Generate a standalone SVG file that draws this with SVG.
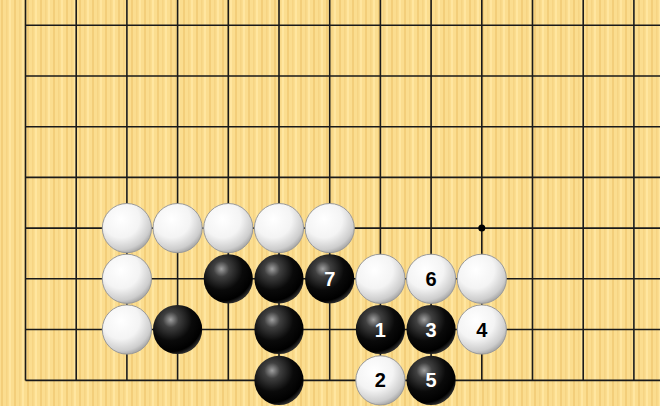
<svg xmlns="http://www.w3.org/2000/svg" width="660" height="406" viewBox="0 0 660 406">
<defs>
<pattern id="wood" patternUnits="userSpaceOnUse" width="13" height="10">
<rect width="13" height="10" fill="#FBDD8F"/>
<rect x="1" width="2" height="10" fill="#F3CE7A"/>
<rect x="6" width="1.5" height="10" fill="#F6D483"/>
<rect x="9" width="2" height="10" fill="#FFE6A0"/>
</pattern>
<radialGradient id="gw" cx="0.38" cy="0.32" r="0.75">
<stop offset="0" stop-color="#FFFFFF"/>
<stop offset="0.5" stop-color="#F4F4F4"/>
<stop offset="0.82" stop-color="#CDCDCD"/>
<stop offset="1" stop-color="#959595"/>
</radialGradient>
<radialGradient id="gb" cx="0.36" cy="0.3" r="0.72">
<stop offset="0" stop-color="#A0A0A0"/>
<stop offset="0.22" stop-color="#404040"/>
<stop offset="0.6" stop-color="#0A0A0A"/>
<stop offset="0.9" stop-color="#000000"/>
<stop offset="1" stop-color="#2A2A2A"/>
</radialGradient>
<style>
.ln{stroke:#1a1a1a;stroke-width:1.6;fill:none}
.w{fill:url(#gw);stroke:#9a9a9a;stroke-width:1}
.b{fill:url(#gb)}
.t{font-family:"Liberation Sans",Arial,sans-serif;font-weight:bold;font-size:20px;text-anchor:middle}
.tw{fill:#ffffff}
.tb{fill:#000000}
</style>
</defs>
<rect width="660" height="406" fill="url(#wood)"/>
<g id="grid">
<path class="ln" d="M25.5 0V380.4M76.2 0V380.4M126.9 0V380.4M177.6 0V380.4M228.3 0V380.4M279 0V380.4M329.7 0V380.4M380.4 0V380.4M431.1 0V380.4M481.8 0V380.4M532.5 0V380.4M583.2 0V380.4M633.9 0V380.4"/>
<path class="ln" d="M25.5 25.3H660M25.5 76H660M25.5 126.7H660M25.5 177.4H660M25.5 228.1H660M25.5 278.8H660M25.5 329.5H660M25.5 380.4H660"/>
<circle id="hoshi" cx="481.8" cy="228.1" r="3.5" fill="#000"/>
</g>
<g id="stones">
<circle class="w" cx="126.9" cy="228.1" r="24.6"/>
<circle class="w" cx="177.6" cy="228.1" r="24.6"/>
<circle class="w" cx="228.3" cy="228.1" r="24.6"/>
<circle class="w" cx="279" cy="228.1" r="24.6"/>
<circle class="w" cx="329.7" cy="228.1" r="24.6"/>
<circle class="w" cx="126.9" cy="278.8" r="24.6"/>
<circle class="w" cx="126.9" cy="329.5" r="24.6"/>
<circle class="b" cx="228.3" cy="278.8" r="24.6"/>
<circle class="b" cx="279" cy="278.8" r="24.6"/>
<g id="m7"><circle class="b" cx="329.7" cy="278.8" r="24.6"/><text class="t tw" x="329.7" y="285.8">7</text></g>
<circle class="w" cx="380.4" cy="278.8" r="24.6"/>
<g id="m6"><circle class="w" cx="431.1" cy="278.8" r="24.6"/><text class="t tb" x="431.1" y="285.8">6</text></g>
<circle class="w" cx="481.8" cy="278.8" r="24.6"/>
<circle class="b" cx="177.6" cy="329.5" r="24.6"/>
<circle class="b" cx="279" cy="329.5" r="24.6"/>
<g id="m1"><circle class="b" cx="380.4" cy="329.5" r="24.6"/><text class="t tw" x="380.4" y="336.5">1</text></g>
<g id="m3"><circle class="b" cx="431.1" cy="329.5" r="24.6"/><text class="t tw" x="431.1" y="336.5">3</text></g>
<g id="m4"><circle class="w" cx="481.8" cy="329.5" r="24.6"/><text class="t tb" x="481.8" y="336.5">4</text></g>
<circle class="b" cx="279" cy="380.4" r="24.6"/>
<g id="m2"><circle class="w" cx="380.4" cy="380.4" r="24.6"/><text class="t tb" x="380.4" y="387.4">2</text></g>
<g id="m5"><circle class="b" cx="431.1" cy="380.4" r="24.6"/><text class="t tw" x="431.1" y="387.4">5</text></g>
</g>
</svg>
